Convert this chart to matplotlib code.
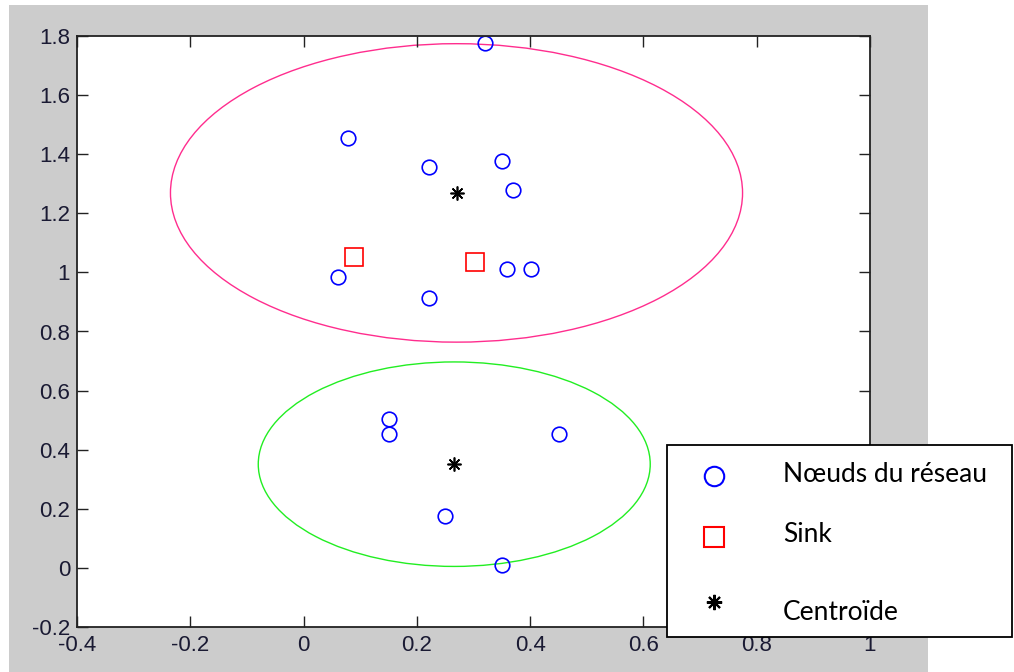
import numpy as np
import matplotlib
matplotlib.use('Agg')
import matplotlib.pyplot as plt
from matplotlib.patches import Rectangle, Circle
from matplotlib.lines import Line2D
from matplotlib.ticker import FormatStrFormatter, MultipleLocator

# noeuds du réseau
nodes_x = [0.320, 0.079, 0.222, 0.350, 0.370, 0.060, 0.222, 0.360, 0.402,
           0.150, 0.150, 0.451, 0.250, 0.350]
nodes_y = [1.775, 1.456, 1.357, 1.377, 1.278, 0.983, 0.912, 1.011, 1.011,
           0.505, 0.454, 0.454, 0.175, 0.011]

# sinks
sink_x = [0.089, 0.302]
sink_y = [1.053, 1.035]

# centroïdes des clusters et rayon de chaque cluster
centroid_x = [0.270, 0.266]
centroid_y = [1.269, 0.351]
cluster_radius = [0.505, 0.346]
cluster_colors = ['#ff2d8e', '#22ee22']

legend_labels = ['Nœuds du réseau', 'Sink', 'Centroïde']

plt.rcParams['axes.unicode_minus'] = False
plt.rcParams['font.family'] = ['Liberation Sans', 'DejaVu Sans']

W, H = 1014, 672
fig = plt.figure(figsize=(W / 100, H / 100), dpi=100, facecolor='white')

# fond gris de la figure
fig.add_artist(Rectangle((9 / W, 0), (928 - 9) / W, (H - 5) / H,
                         transform=fig.transFigure, facecolor='#cccccc',
                         edgecolor='none', zorder=-1))

ax = fig.add_axes([77 / W, 1 - 627 / H, (870 - 77) / W, (627 - 36) / H])

for cx, cy, r, c in zip(centroid_x, centroid_y, cluster_radius, cluster_colors):
    ax.add_patch(Circle((cx, cy), r, fill=False, edgecolor=c, linewidth=1.0))

ax.plot(nodes_x, nodes_y, 'o', color='blue', mfc='none', ms=10.5, mew=1.2)
ax.plot(sink_x, sink_y, 's', color='red', mfc='none', ms=13, mew=1.2)
ax.plot(centroid_x, centroid_y, marker=(8, 2, 0), ls='none', color='black',
        ms=10, mew=1.2)

ax.set_xlim(-0.4, 1.0)
ax.set_ylim(-0.2, 1.8)
ax.xaxis.set_major_locator(MultipleLocator(0.2))
ax.yaxis.set_major_locator(MultipleLocator(0.2))
ax.xaxis.set_major_formatter(FormatStrFormatter('%g'))
ax.yaxis.set_major_formatter(FormatStrFormatter('%g'))
ax.tick_params(direction='in', length=8, width=1.0, top=True, right=True,
               labelsize=16, labelcolor='#1a1a33', color='#222222')
ax.tick_params(axis='x', pad=6)
ax.tick_params(axis='y', pad=5)
for s in ax.spines.values():
    s.set_linewidth(1.3)
    s.set_color('#222222')

# légende
fig.add_artist(Rectangle((667 / W, 1 - 637 / H), (1012 - 667) / W, (637 - 445) / H,
                         transform=fig.transFigure, facecolor='white',
                         edgecolor='black', linewidth=1.3, zorder=5))
leg_font = ['Lato', 'DejaVu Sans']
fig.add_artist(Line2D([714 / W], [1 - 476 / H], transform=fig.transFigure,
                      marker='o', color='blue', mfc='none', ms=14, mew=1.5, zorder=6))
fig.add_artist(Line2D([714 / W], [1 - 537 / H], transform=fig.transFigure,
                      marker='s', color='red', mfc='none', ms=14, mew=1.5, zorder=6))
fig.add_artist(Line2D([714 / W], [1 - 602 / H], transform=fig.transFigure,
                      marker=(8, 2, 0), color='black', ms=11, mew=1.5, zorder=6))
for label, ty in zip(legend_labels, [475, 535, 613]):
    fig.text(783 / W, 1 - ty / H, label, family=leg_font, fontsize=19,
             va='center', ha='left', color='black', zorder=7)

fig.savefig('out.png', dpi=100, facecolor='white')
